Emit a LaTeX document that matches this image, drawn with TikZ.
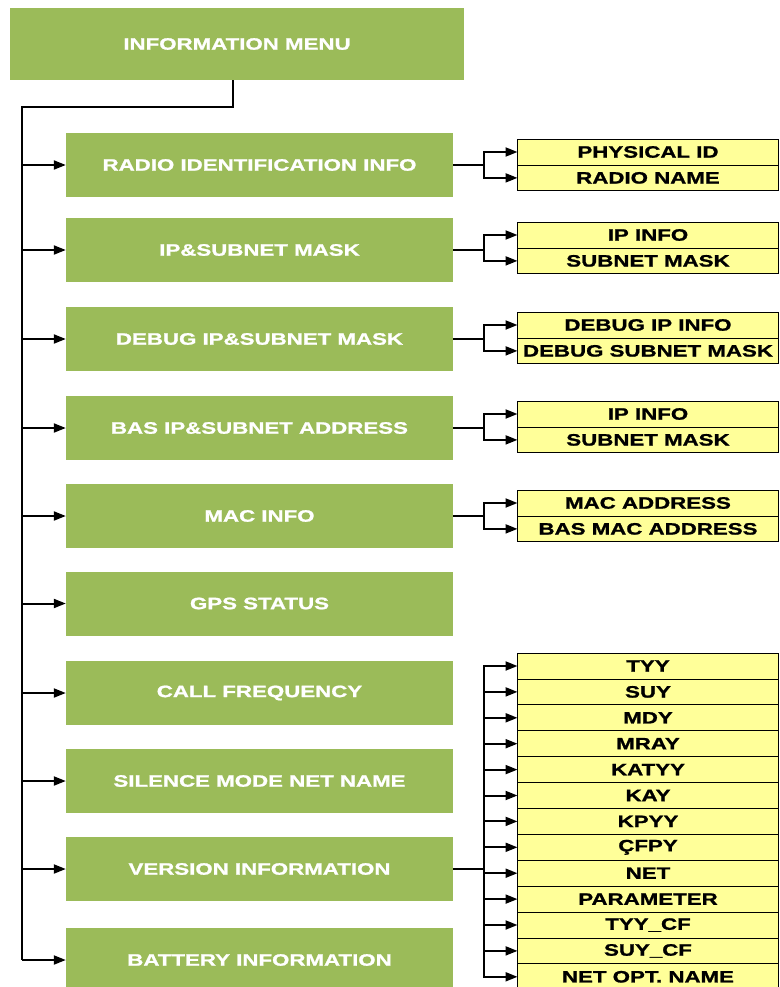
\documentclass[tikz,border=0pt]{standalone}
\usepackage{fontspec}
\newfontfamily\boxfont{Liberation Sans Bold}[FakeStretch=1.35, FakeBold=1.2]
\usepackage{tikz}
\usetikzlibrary{arrows.meta, positioning, calc}
\definecolor{menugreen}{RGB}{155,187,89}
\definecolor{itemyellow}{RGB}{255,255,153}

\begin{document}
\begin{tikzpicture}[
  x=1pt, y=-1pt,
  gbox/.style={fill=menugreen, minimum width=387pt, minimum height=64pt,
               inner sep=0pt, text=white, align=center,
               font=\boxfont\fontsize{16.5}{18}\selectfont},
  ybox/.style={draw=black, line width=0.8pt, fill=itemyellow, outer sep=0pt,
               minimum width=261pt, minimum height=25.9pt, inner sep=0pt,
               text=black, font=\boxfont\fontsize{16.5}{18}\selectfont},
  conn/.style={line width=2pt, color=black},
  arrow/.style={conn, -{Triangle[length=12pt,width=9pt]}},
]
\useasboundingbox (0,0) rectangle (779,987);

%% Top: menu
\node[gbox, minimum width=454pt, minimum height=72pt] (menu) at (237,44) {INFORMATION MENU};

%% Column 1: menu entries
\node[gbox] (radio)   at (259.5,165) {RADIO IDENTIFICATION INFO};
\node[gbox] (ip)      at (259.5,250) {IP\&SUBNET MASK};
\node[gbox] (debug)   at (259.5,339) {DEBUG IP\&SUBNET MASK};
\node[gbox] (bas)     at (259.5,428) {BAS IP\&SUBNET ADDRESS};
\node[gbox] (mac)     at (259.5,516) {MAC INFO};
\node[gbox] (gps)     at (259.5,603.5) {GPS STATUS};
\node[gbox] (callfreq) at (259.5,693) {CALL FREQUENCY};
\node[gbox] (silence) at (259.5,781) {SILENCE MODE NET NAME};
\node[gbox] (version) at (259.5,869) {VERSION INFORMATION};
\node[gbox] (battery) at (259.5,960) {BATTERY INFORMATION};

%% Column 2: sub items
\node[ybox] (physid)    at (648,152) {PHYSICAL ID};
\node[ybox, below=0pt of physid] (radioname) {RADIO NAME};
\node[ybox] (ipinfo)    at (648,235) {IP INFO};
\node[ybox, below=0pt of ipinfo] (subnet) {SUBNET MASK};
\node[ybox] (dbgip)     at (648,325) {DEBUG IP INFO};
\node[ybox, below=0pt of dbgip] (dbgsubnet) {DEBUG SUBNET MASK};
\node[ybox] (basip)     at (648,414) {IP INFO};
\node[ybox, below=0pt of basip] (bassubnet) {SUBNET MASK};
\node[ybox] (macaddr)   at (648,503) {MAC ADDRESS};
\node[ybox, below=0pt of macaddr] (basmac) {BAS MAC ADDRESS};

%% Column 2: version list
\node[ybox] (tyy)       at (648,666) {TYY};
\node[ybox, below=0pt of tyy]     (suy)     {SUY};
\node[ybox, below=0pt of suy]     (mdy)     {MDY};
\node[ybox, below=0pt of mdy]     (mray)    {MRAY};
\node[ybox, below=0pt of mray]    (katyy)   {KATYY};
\node[ybox, below=0pt of katyy]   (kay)     {KAY};
\node[ybox, below=0pt of kay]     (kpyy)    {KPYY};
\node[ybox, below=0pt of kpyy]    (cfpy)    {ÇFPY};
\node[ybox, below=0pt of cfpy]    (net)     {NET};
\node[ybox, below=0pt of net]     (param)   {PARAMETER};
\node[ybox, below=0pt of param]   (tyycf)   {TYY\_CF};
\node[ybox, below=0pt of tyycf]   (suycf)   {SUY\_CF};
\node[ybox, below=0pt of suycf]   (netopt)  {NET OPT. NAME};

%% Trunk
\coordinate (trunktop) at (22,107);
\draw[conn, line join=miter] ([xshift=-4pt]menu.south) |- (trunktop) -- (trunktop |- battery.west);
\foreach \entry in {radio,ip,debug,bas,mac,gps,callfreq,silence,version,battery}
  \draw[arrow] (trunktop |- \entry.west) -- (\entry.west);

%% Branches
\draw[arrow] (radio.east) -- ++(31,0) |- (physid.west);
\draw[arrow] (radio.east) -- ++(31,0) |- (radioname.west);
\draw[arrow] (ip.east)    -- ++(31,0) |- (ipinfo.west);
\draw[arrow] (ip.east)    -- ++(31,0) |- (subnet.west);
\draw[arrow] (debug.east) -- ++(31,0) |- (dbgip.west);
\draw[arrow] (debug.east) -- ++(31,0) |- (dbgsubnet.west);
\draw[arrow] (bas.east)   -- ++(31,0) |- (basip.west);
\draw[arrow] (bas.east)   -- ++(31,0) |- (bassubnet.west);
\draw[arrow] (mac.east)   -- ++(31,0) |- (macaddr.west);
\draw[arrow] (mac.east)   -- ++(31,0) |- (basmac.west);
\foreach \item in {tyy,suy,mdy,mray,katyy,kay,kpyy,cfpy,net,param,tyycf,suycf,netopt}
  \draw[arrow] (version.east) -- ++(31,0) |- (\item.west);

\end{tikzpicture}
\end{document}
